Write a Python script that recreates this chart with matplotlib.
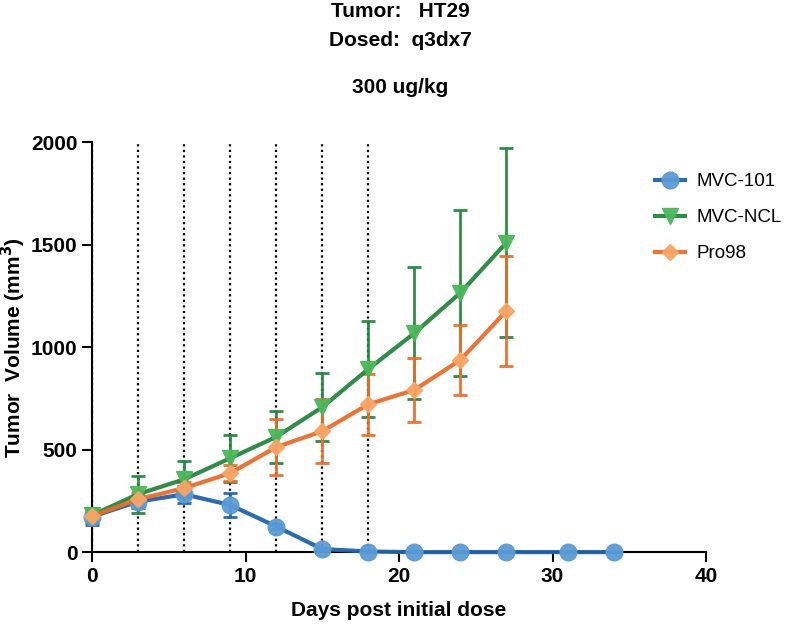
import matplotlib
matplotlib.use("Agg")
import matplotlib.pyplot as plt

plt.rcParams['font.family'] = ['Liberation Sans', 'DejaVu Sans']

# 数据
days_101 = [0, 3, 6, 9, 12, 15, 18, 21, 24, 27, 31, 34]
vol_101 = [173, 246, 282, 230, 125, 15, 3, 0, 0, 0, 0, 0]
err_101 = [40, 30, 40, 60, 10, 5, 2, 0, 0, 0, 0, 0]

days_ncl = [0, 3, 6, 9, 12, 15, 18, 21, 24, 27]
vol_ncl = [180, 283, 355, 458, 562, 707, 893, 1068, 1265, 1510]
err_ncl = [35, 90, 90, 115, 128, 165, 233, 323, 406, 460]

days_pro = [0, 3, 6, 9, 12, 15, 18, 21, 24, 27]
vol_pro = [175, 258, 312, 385, 512, 590, 721, 791, 937, 1177]
err_pro = [30, 30, 30, 40, 138, 155, 150, 158, 172, 267]

dose_days = [0, 3, 6, 9, 12, 15, 18]

fig = plt.figure(figsize=(8, 6.26), dpi=100)
ax = fig.add_axes([0.115, 0.118, 0.7675, 0.655])

for d in dose_days:
    ax.axvline(d, color='black', linestyle=(0, (1, 1.5)), linewidth=1.6, zorder=1)

series = [
    (days_101, vol_101, err_101, 'MVC-101', '#1f63ae', '#5b9bd5', 'o', 12),
    (days_ncl, vol_ncl, err_ncl, 'MVC-NCL', '#23883d', '#4cb85a', 'v', 11),
    (days_pro, vol_pro, err_pro, 'Pro98', '#f06a28', '#f8a566', 'D', 8),
]
for x, y, e, lab, lc, mc, mk, ms in series:
    ax.errorbar(x, y, yerr=e, color=lc, linewidth=3, elinewidth=2,
                capsize=5, capthick=2, marker=mk, markersize=ms,
                markerfacecolor=mc, markeredgecolor=mc, alpha=0.95,
                label=lab, clip_on=False, zorder=3)

ax.set_xlim(0, 40)
ax.set_ylim(0, 2000)
ax.set_xticks([0, 10, 20, 30, 40])
ax.set_yticks([0, 500, 1000, 1500, 2000])
ax.spines['top'].set_visible(False)
ax.spines['right'].set_visible(False)
ax.spines['left'].set_linewidth(1.5)
ax.spines['bottom'].set_linewidth(1.5)
ax.tick_params(axis='both', direction='out', length=7, width=1.5, labelsize=15)
for t in ax.get_xticklabels() + ax.get_yticklabels():
    t.set_fontweight('bold')

ax.set_xlabel('Days post initial dose', fontsize=15, fontweight='bold', labelpad=11)
ax.set_ylabel('Tumor  Volume (mm$\\mathbf{^3}$)', fontsize=15, fontweight='bold', labelpad=2)

handles, labels = ax.get_legend_handles_labels()
handles = [h[0] for h in handles]
ax.legend(handles, labels, loc='upper left', bbox_to_anchor=(0.89, 0.965),
          frameon=False, fontsize=13.5, handlelength=1.6, labelspacing=1.0,
          handletextpad=0.6)

fig.text(0.5, 0.997, 'Tumor:   HT29', ha='center', va='top', fontsize=15, fontweight='bold')
fig.text(0.5, 0.95, 'Dosed:  q3dx7', ha='center', va='top', fontsize=15, fontweight='bold')
fig.text(0.5, 0.875, '300 ug/kg', ha='center', va='top', fontsize=15, fontweight='bold')

fig.savefig('out.png', dpi=100)
